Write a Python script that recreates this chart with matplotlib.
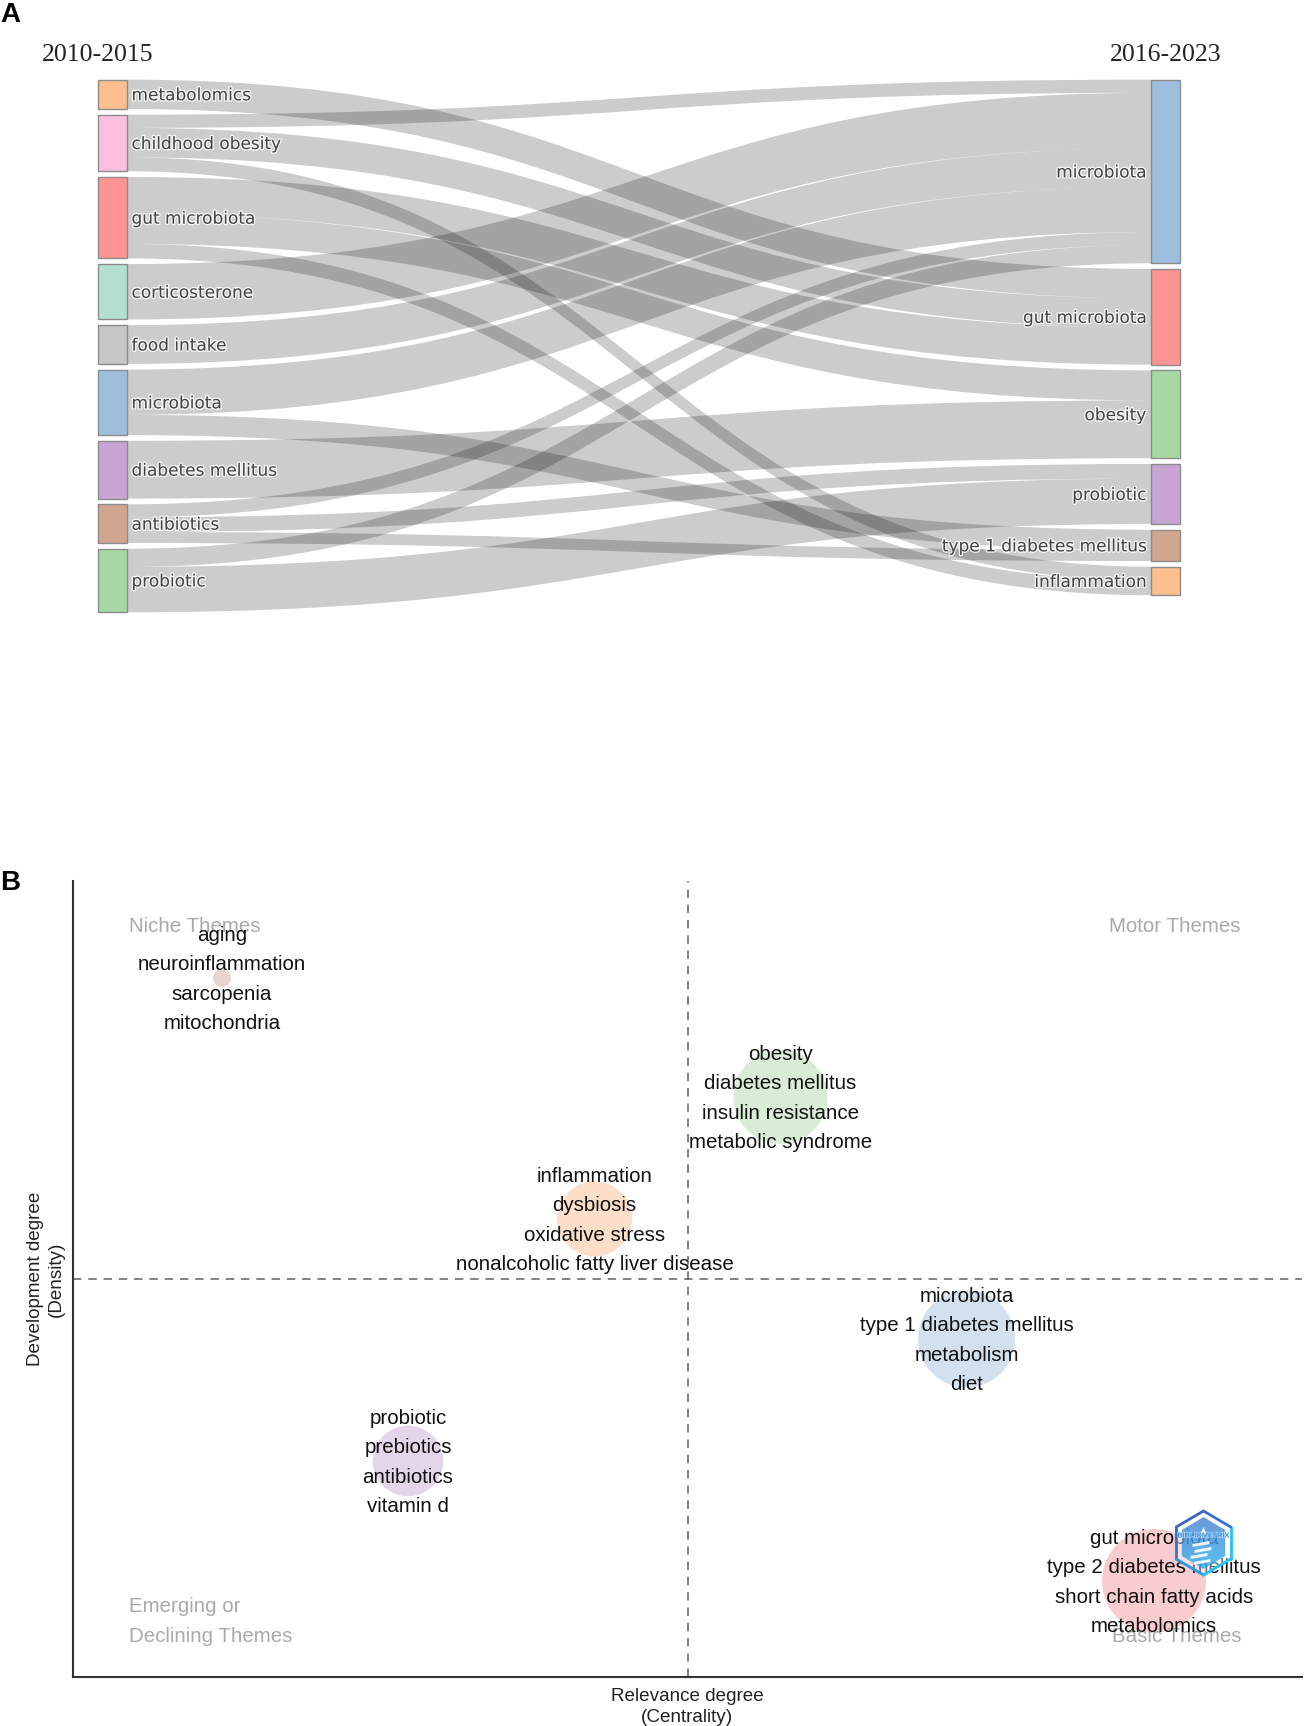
import numpy as np
import matplotlib
matplotlib.use('Agg')
import matplotlib.pyplot as plt
from matplotlib.patches import Rectangle, PathPatch, Polygon
from matplotlib.path import Path
import matplotlib.patheffects as pe

# sankey nodes, widths in link units
LEFT_NODES = ['metabolomics', 'childhood obesity', 'gut microbiota', 'corticosterone',
              'food intake', 'microbiota', 'diabetes mellitus', 'antibiotics', 'probiotic']
RIGHT_NODES = ['microbiota', 'gut microbiota', 'obesity', 'probiotic',
               'type 1 diabetes mellitus', 'inflammation']
LEFT_COLORS = ['#fdbf8f', '#fcbfe0', '#fb9493', '#b3e0d0', '#c7c7c7',
               '#9dbedc', '#c8a4d3', '#d0a68e', '#a5d8a3']
RIGHT_COLORS = ['#9dbedc', '#fb9493', '#a5d8a3', '#c8a4d3', '#d0a68e', '#fdbf8f']
LINK_SOURCE = [0, 1, 1, 1, 2, 2, 2, 3, 4, 5, 5, 6, 7, 7, 7, 8, 8]
LINK_TARGET = [1, 0, 1, 5, 1, 2, 5, 0, 0, 0, 4, 2, 0, 3, 4, 0, 3]
LINK_VALUE = [29.4, 13.2, 29.4, 14, 36.9, 30, 14.5, 55.4, 38.7, 45.2, 20.3, 57.8,
              13, 14.7, 11, 18.2, 45.4]

# thematic map clusters
CLUSTER_WORDS = [
    ['aging', 'neuroinflammation', 'sarcopenia', 'mitochondria'],
    ['obesity', 'diabetes mellitus', 'insulin resistance', 'metabolic syndrome'],
    ['inflammation', 'dysbiosis', 'oxidative stress', 'nonalcoholic fatty liver disease'],
    ['microbiota', 'type 1 diabetes mellitus', 'metabolism', 'diet'],
    ['probiotic', 'prebiotics', 'antibiotics', 'vitamin d'],
    ['gut microbiota', 'type 2 diabetes mellitus', 'short chain fatty acids', 'metabolomics'],
]
CENTRALITY = [149, 707.5, 521.5, 893.5, 335, 1081]
DENSITY = [699, 580, 458, 338, 216, 96]
BUBBLE_RADIUS = [9, 47, 37.5, 48.5, 35.3, 52]
BUBBLE_COLORS = ['#e8d6d0', '#d9ecd6', '#fddfc9', '#d3e1ef', '#e4d6ea', '#f9ccd0']
CENTRALITY_MID = 615
DENSITY_MID = 398


def link_path(x0, x1, y0, y1, width):
    xm = (x0 + x1) / 2
    verts = [(x0, y0), (xm, y0), (xm, y1), (x1, y1),
             (x1, y1 + width), (xm, y1 + width), (xm, y0 + width), (x0, y0 + width),
             (x0, y0)]
    codes = [Path.MOVETO, Path.CURVE4, Path.CURVE4, Path.CURVE4,
             Path.LINETO, Path.CURVE4, Path.CURVE4, Path.CURVE4, Path.CLOSEPOLY]
    return Path(verts, codes)


def draw_sankey(ax):
    pad = 5.7
    x_left, x_right = 127, 1151
    node_w = 29
    top = 79.6
    src = np.array(LINK_SOURCE)
    tgt = np.array(LINK_TARGET)
    val = np.array(LINK_VALUE, dtype=float)

    left_h = [val[src == i].sum() for i in range(len(LEFT_NODES))]
    right_h = [val[tgt == i].sum() for i in range(len(RIGHT_NODES))]
    left_y = top + np.cumsum([0] + [h + pad for h in left_h[:-1]])
    right_y = top + np.cumsum([0] + [h + pad for h in right_h[:-1]])

    off_l = left_y.copy()
    off_r = right_y.copy()
    for s, t, v in zip(src, tgt, val):
        p = link_path(x_left, x_right, off_l[s], off_r[t], v)
        ax.add_patch(PathPatch(p, facecolor='black', edgecolor='none', alpha=0.2, zorder=1))
        off_l[s] += v
        off_r[t] += v

    stroke = [pe.withStroke(linewidth=2, foreground='white', alpha=0.8)]
    for name, col, y, h in zip(LEFT_NODES, LEFT_COLORS, left_y, left_h):
        ax.add_patch(Rectangle((x_left - node_w, y), node_w, h, facecolor=col,
                               edgecolor='#8c8c8c', linewidth=1, zorder=2))
        ax.text(x_left + 4.5, y + h / 2 + 1, name, ha='left', va='center', fontsize=FS_NODE,
                family='DejaVu Sans', color='#444444', path_effects=stroke, zorder=3)
    for name, col, y, h in zip(RIGHT_NODES, RIGHT_COLORS, right_y, right_h):
        ax.add_patch(Rectangle((x_right, y), node_w, h, facecolor=col,
                               edgecolor='#8c8c8c', linewidth=1, zorder=2))
        ax.text(x_right - 5, y + h / 2 + 1, name, ha='right', va='center', fontsize=FS_NODE,
                family='DejaVu Sans', color='#444444', path_effects=stroke, zorder=3)

    ax.text(97.5, 55, '2010-2015', ha='center', va='center', fontsize=18.5,
            family='Liberation Serif', color='#222222')
    ax.text(1166, 55, '2016-2023', ha='center', va='center', fontsize=18.5,
            family='Liberation Serif', color='#222222')


def draw_logo(ax, cx, cy):
    # small hexagon stamp sitting over the gut microbiota bubble
    ang = np.deg2rad(np.arange(90, 450, 60))
    hx = cx + 31.5 * np.cos(ang)
    hy = cy + 32 * np.sin(ang)
    ax.add_patch(Polygon(np.c_[hx, hy], closed=True, facecolor='white', alpha=0.4,
                         edgecolor='none', zorder=5))
    edge_cols = ['#3f62c8', '#3570d0', '#2a9ae6', '#1bc4f5', '#1bc4f5', '#3570d0']
    for i, col in enumerate(edge_cols):
        j = (i + 1) % 6
        ax.plot([hx[i], hx[j]], [hy[i], hy[j]], color=col, linewidth=2,
                solid_capstyle='round', zorder=8)
    inner = Polygon(np.c_[cx + 25 * np.cos(ang), cy + 26 * np.sin(ang)], closed=True,
                    facecolor='none', edgecolor='none', transform=ax.transData)
    ax.add_patch(inner)
    grad = np.linspace(0, 1, 64)[:, None]
    cmap = matplotlib.colors.LinearSegmentedColormap.from_list('logo', ['#0fb0f5', '#3a68c8'])
    im = ax.imshow(grad, extent=(cx - 31, cx + 31, cy - 32, cy + 32), origin='lower',
                   cmap=cmap, aspect='auto', alpha=0.72, zorder=6)
    im.set_clip_path(inner)
    # white tower and stairs
    ax.add_patch(Polygon([(cx - 4, cy + 6), (cx, cy + 16), (cx + 4, cy + 6)], facecolor='white',
                         edgecolor='none', zorder=7))
    for dx, dy in [(-4, 0), (-2, -6), (-6, -12), (-3, -18)]:
        ax.add_patch(Polygon([(cx + dx - 7, cy + dy - 1), (cx + dx + 10, cy + dy + 2),
                              (cx + dx + 10, cy + dy - 1), (cx + dx - 7, cy + dy - 4)],
                             facecolor='white', edgecolor='none', alpha=0.9, zorder=7))
    ax.text(cx, cy + 7, 'BIBLIOMETRIX', ha='center', va='center', fontsize=5.2,
            fontweight='bold', color='#2a8fe0', zorder=9,
            path_effects=[pe.withStroke(linewidth=1, foreground='white', alpha=0.6)])


FS_NODE = 12.2
FS_WORD = 14.75
plt.rcParams['font.family'] = 'Liberation Sans'
fig = plt.figure(figsize=(13.04, 17.26), dpi=100)
W, H = 1304, 1726

ax_a = fig.add_axes([0, 0, 1, 1])
ax_a.set_xlim(0, W)
ax_a.set_ylim(H, 0)
ax_a.axis('off')
draw_sankey(ax_a)
ax_a.text(0, 15, 'A', fontsize=20, fontweight='bold', va='center', ha='left', color='black')
ax_a.text(0, 883, 'B', fontsize=20, fontweight='bold', va='center', ha='left', color='black')

x0, x1 = 73, 1302
y_top, y_bot = 881, 1677
ax_b = fig.add_axes([x0 / W, 1 - y_bot / H, (x1 - x0) / W, (y_bot - y_top) / H])
ax_b.patch.set_alpha(0)
for side in ['top', 'right']:
    ax_b.spines[side].set_visible(False)
for side in ['left', 'bottom']:
    ax_b.spines[side].set_linewidth(1.5)
    ax_b.spines[side].set_color('#333333')
ax_b.set_xticks([])
ax_b.set_yticks([])

dash = (0, (5.5, 4.5))
ax_b.axvline(CENTRALITY_MID, color='#606060', linewidth=1.1, linestyle=dash, zorder=1)
ax_b.axhline(DENSITY_MID, color='#606060', linewidth=1.1, linestyle=dash, zorder=1)

sizes = [(2 * r * 0.72) ** 2 for r in BUBBLE_RADIUS]
ax_b.scatter(CENTRALITY, DENSITY, s=sizes, c=BUBBLE_COLORS, edgecolors='none', zorder=2)

line_gap = 29.4
for words, cx, cy in zip(CLUSTER_WORDS, CENTRALITY, DENSITY):
    for k, w in enumerate(words):
        ax_b.text(cx, cy + (1.5 - k) * line_gap - 7, w, ha='center', va='baseline',
                  fontsize=FS_WORD, color='#111111', zorder=4)

grey = '#a9a9a9'
ax_b.text(56, 751, 'Niche Themes', fontsize=FS_WORD, color=grey, va='center', zorder=3)
ax_b.text(1036, 751, 'Motor Themes', fontsize=FS_WORD, color=grey, va='center', zorder=3)
ax_b.text(56, 71, 'Emerging or', fontsize=FS_WORD, color=grey, va='center', zorder=3)
ax_b.text(56, 41, 'Declining Themes', fontsize=FS_WORD, color=grey, va='center', zorder=3)
ax_b.text(1039, 41, 'Basic Themes', fontsize=FS_WORD, color=grey, va='center', zorder=3)

ax_a.text(687, 1707, 'Relevance degree\n(Centrality)', ha='center', va='center',
          fontsize=13.6, color='#222222', linespacing=1.25)
ax_a.text(46, 1279, 'Development degree\n(Density)', ha='center', va='center', rotation=90,
          fontsize=13.6, color='#222222', linespacing=1.25)

draw_logo(ax_b, 1130.5, 134)
ax_b.set_xlim(0, x1 - x0)
ax_b.set_ylim(0, y_bot - y_top)

fig.savefig('out.png', dpi=100)
